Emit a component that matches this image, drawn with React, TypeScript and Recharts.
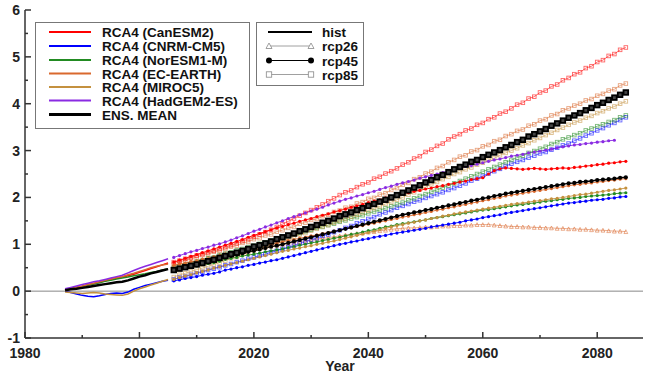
import React from 'react';
import { LineChart, Line, XAxis, YAxis, ReferenceLine } from 'recharts';

const histStart = 1987;
const scenStart = 2006;

const xTicks = [1980, 1990, 2000, 2010, 2020, 2030, 2040, 2050, 2060, 2070, 2080];
const yTicks = [-1, -0.5, 0, 0.5, 1, 1.5, 2, 2.5, 3, 3.5, 4, 4.5, 5, 5.5, 6];

const modelNames = ['RCA4 (CanESM2)', 'RCA4 (CNRM-CM5)', 'RCA4 (NorESM1-M)', 'RCA4 (EC-EARTH)', 'RCA4 (MIROC5)', 'RCA4 (HadGEM2-ES)', 'ENS. MEAN'];
const modelColors = ['#ff0000', '#0000ff', '#228b22', '#d9692e', '#c4913f', '#8a2be2', '#000000'];
const scenarioNames = ['hist', 'rcp26', 'rcp45', 'rcp85'];

// historical, 1987-2005
const histCan = [0.02, 0.05, 0.08, 0.10, 0.13, 0.16, 0.19, 0.22, 0.25, 0.28, 0.30, 0.33, 0.36, 0.40, 0.44, 0.48, 0.52, 0.56, 0.60];
const histCnrm = [0.00, -0.03, -0.06, -0.09, -0.11, -0.12, -0.10, -0.07, -0.05, -0.04, -0.05, -0.02, 0.04, 0.08, 0.12, 0.15, 0.18, 0.21, 0.23];
const histNor = [0.03, 0.06, 0.08, 0.10, 0.13, 0.15, 0.18, 0.21, 0.23, 0.26, 0.28, 0.30, 0.33, 0.35, 0.37, 0.40, 0.42, 0.45, 0.48];
const histEc = [0.02, 0.05, 0.08, 0.11, 0.14, 0.17, 0.20, 0.23, 0.26, 0.29, 0.31, 0.35, 0.38, 0.42, 0.46, 0.50, 0.53, 0.56, 0.58];
const histMiroc = [-0.02, -0.03, -0.04, -0.05, -0.04, -0.03, -0.04, -0.06, -0.07, -0.08, -0.09, -0.06, 0.00, 0.05, 0.09, 0.13, 0.17, 0.21, 0.25];
const histHad = [0.05, 0.08, 0.11, 0.14, 0.17, 0.20, 0.22, 0.25, 0.28, 0.31, 0.34, 0.39, 0.44, 0.49, 0.53, 0.57, 0.61, 0.65, 0.69];
const histEns = [0.02, 0.04, 0.05, 0.07, 0.09, 0.11, 0.13, 0.15, 0.17, 0.19, 0.20, 0.23, 0.27, 0.31, 0.34, 0.38, 0.41, 0.44, 0.47];

// rcp85, 2006-2085
const rcp85Can = [
  0.62, 0.65, 0.69, 0.72, 0.76, 0.79, 0.83, 0.86, 0.90, 0.94,
  0.98, 1.02, 1.07, 1.11, 1.16, 1.21, 1.26, 1.31, 1.37, 1.43,
  1.49, 1.55, 1.61, 1.67, 1.73, 1.79, 1.85, 1.92, 1.98, 2.05,
  2.11, 2.15, 2.22, 2.28, 2.32, 2.40, 2.44, 2.51, 2.56, 2.62,
  2.70, 2.75, 2.83, 2.88, 2.97, 3.02, 3.10, 3.15, 3.24, 3.30,
  3.35, 3.43, 3.47, 3.55, 3.59, 3.67, 3.71, 3.79, 3.83, 3.90,
  3.98, 4.02, 4.11, 4.15, 4.24, 4.28, 4.37, 4.41, 4.50, 4.55,
  4.63, 4.67, 4.76, 4.80, 4.89, 4.93, 5.02, 5.06, 5.15, 5.20,
];
const rcp85Cnrm = [
  0.25, 0.29, 0.31, 0.35, 0.38, 0.41, 0.45, 0.48, 0.51, 0.55,
  0.58, 0.62, 0.65, 0.69, 0.72, 0.76, 0.79, 0.83, 0.86, 0.90,
  0.94, 0.97, 1.02, 1.05, 1.10, 1.13, 1.18, 1.21, 1.26, 1.30,
  1.35, 1.39, 1.45, 1.49, 1.54, 1.58, 1.64, 1.68, 1.73, 1.78,
  1.82, 1.86, 1.91, 1.94, 1.99, 2.03, 2.07, 2.11, 2.16, 2.20,
  2.25, 2.30, 2.36, 2.40, 2.46, 2.51, 2.56, 2.61, 2.67, 2.72,
  2.76, 2.80, 2.85, 2.89, 2.94, 2.97, 3.02, 3.06, 3.11, 3.15,
  3.21, 3.26, 3.32, 3.37, 3.43, 3.48, 3.54, 3.59, 3.65, 3.71,
];
const rcp85Nor = [
  0.50, 0.52, 0.56, 0.58, 0.63, 0.65, 0.70, 0.72, 0.77, 0.80,
  0.83, 0.87, 0.90, 0.94, 0.97, 1.01, 1.04, 1.08, 1.11, 1.15,
  1.18, 1.22, 1.24, 1.28, 1.31, 1.35, 1.37, 1.41, 1.44, 1.48,
  1.51, 1.55, 1.58, 1.62, 1.66, 1.70, 1.73, 1.77, 1.81, 1.85,
  1.89, 1.94, 1.98, 2.03, 2.07, 2.12, 2.16, 2.21, 2.25, 2.30,
  2.35, 2.40, 2.45, 2.50, 2.55, 2.60, 2.65, 2.70, 2.75, 2.80,
  2.85, 2.89, 2.95, 2.99, 3.04, 3.08, 3.14, 3.18, 3.24, 3.28,
  3.33, 3.37, 3.43, 3.47, 3.52, 3.56, 3.61, 3.65, 3.71, 3.75,
];
const rcp85Ec = [
  0.58, 0.63, 0.65, 0.70, 0.72, 0.77, 0.79, 0.84, 0.86, 0.90,
  0.95, 0.97, 1.03, 1.05, 1.11, 1.13, 1.19, 1.21, 1.27, 1.30,
  1.35, 1.37, 1.44, 1.46, 1.52, 1.54, 1.60, 1.63, 1.69, 1.72,
  1.78, 1.80, 1.87, 1.90, 1.97, 1.99, 2.06, 2.09, 2.16, 2.20,
  2.27, 2.31, 2.39, 2.43, 2.51, 2.55, 2.63, 2.67, 2.75, 2.80,
  2.87, 2.90, 2.98, 3.01, 3.09, 3.12, 3.20, 3.23, 3.31, 3.35,
  3.42, 3.45, 3.53, 3.56, 3.64, 3.67, 3.75, 3.78, 3.86, 3.90,
  3.96, 4.00, 4.07, 4.10, 4.17, 4.21, 4.28, 4.31, 4.39, 4.43,
];
const rcp85Miroc = [
  0.30, 0.35, 0.38, 0.42, 0.46, 0.49, 0.53, 0.57, 0.61, 0.65,
  0.70, 0.73, 0.79, 0.82, 0.87, 0.91, 0.95, 0.99, 1.04, 1.08,
  1.12, 1.16, 1.21, 1.24, 1.29, 1.33, 1.38, 1.41, 1.46, 1.50,
  1.54, 1.59, 1.63, 1.68, 1.72, 1.77, 1.81, 1.86, 1.90, 1.95,
  2.00, 2.06, 2.11, 2.17, 2.22, 2.28, 2.33, 2.39, 2.44, 2.50,
  2.54, 2.60, 2.64, 2.70, 2.74, 2.80, 2.84, 2.90, 2.95, 3.00,
  3.05, 3.11, 3.16, 3.22, 3.27, 3.33, 3.38, 3.44, 3.49, 3.55,
  3.60, 3.64, 3.70, 3.74, 3.80, 3.84, 3.90, 3.94, 4.00, 4.05,
];
const rcp85Ens = [
  0.45, 0.48, 0.51, 0.54, 0.57, 0.60, 0.64, 0.67, 0.71, 0.75,
  0.79, 0.82, 0.86, 0.90, 0.95, 0.98, 1.02, 1.06, 1.11, 1.15,
  1.19, 1.23, 1.28, 1.32, 1.37, 1.41, 1.46, 1.50, 1.55, 1.60,
  1.64, 1.68, 1.73, 1.77, 1.82, 1.86, 1.91, 1.95, 2.00, 2.05,
  2.10, 2.15, 2.21, 2.26, 2.32, 2.37, 2.43, 2.48, 2.54, 2.60,
  2.65, 2.70, 2.76, 2.80, 2.86, 2.91, 2.96, 3.01, 3.07, 3.12,
  3.18, 3.23, 3.30, 3.35, 3.41, 3.46, 3.53, 3.58, 3.64, 3.70,
  3.75, 3.80, 3.86, 3.91, 3.97, 4.02, 4.08, 4.13, 4.19, 4.24,
];

// rcp45, 2006-2085 (HadGEM2-ES to 2083)
const rcp45Can = [
  0.62, 0.66, 0.70, 0.74, 0.78, 0.82, 0.86, 0.90, 0.94, 0.98,
  1.02, 1.06, 1.10, 1.15, 1.19, 1.23, 1.27, 1.31, 1.35, 1.38,
  1.42, 1.45, 1.49, 1.52, 1.55, 1.59, 1.62, 1.65, 1.69, 1.72,
  1.75, 1.79, 1.82, 1.85, 1.89, 1.92, 1.95, 1.99, 2.02, 2.05,
  2.08, 2.10, 2.13, 2.15, 2.18, 2.20, 2.23, 2.25, 2.28, 2.30,
  2.33, 2.35, 2.38, 2.40, 2.42, 2.50, 2.57, 2.61, 2.63, 2.62,
  2.61, 2.60, 2.61, 2.62, 2.61, 2.60, 2.61, 2.62, 2.63, 2.62,
  2.64, 2.65, 2.67, 2.68, 2.70, 2.71, 2.73, 2.74, 2.76, 2.77,
];
const rcp45Cnrm = [
  0.22, 0.24, 0.27, 0.29, 0.31, 0.34, 0.36, 0.38, 0.41, 0.45,
  0.47, 0.50, 0.52, 0.55, 0.57, 0.60, 0.62, 0.65, 0.67, 0.70,
  0.73, 0.76, 0.79, 0.82, 0.85, 0.88, 0.91, 0.94, 0.97, 1.00,
  1.02, 1.05, 1.07, 1.10, 1.12, 1.15, 1.17, 1.19, 1.22, 1.24,
  1.26, 1.28, 1.30, 1.32, 1.34, 1.37, 1.39, 1.41, 1.43, 1.45,
  1.47, 1.50, 1.52, 1.54, 1.57, 1.59, 1.61, 1.63, 1.66, 1.68,
  1.70, 1.72, 1.74, 1.76, 1.78, 1.80, 1.82, 1.84, 1.86, 1.88,
  1.89, 1.91, 1.92, 1.94, 1.95, 1.96, 1.98, 1.99, 2.01, 2.02,
];
const rcp45Nor = [
  0.45, 0.47, 0.50, 0.52, 0.54, 0.57, 0.59, 0.61, 0.64, 0.68,
  0.70, 0.72, 0.75, 0.77, 0.79, 0.81, 0.84, 0.86, 0.88, 0.90,
  0.93, 0.95, 0.98, 1.00, 1.03, 1.05, 1.08, 1.10, 1.13, 1.15,
  1.18, 1.21, 1.23, 1.26, 1.29, 1.31, 1.34, 1.37, 1.39, 1.42,
  1.44, 1.46, 1.48, 1.50, 1.52, 1.55, 1.57, 1.59, 1.61, 1.63,
  1.65, 1.67, 1.69, 1.71, 1.73, 1.74, 1.76, 1.78, 1.80, 1.82,
  1.84, 1.85, 1.87, 1.88, 1.90, 1.92, 1.93, 1.95, 1.96, 1.98,
  1.99, 2.00, 2.02, 2.03, 2.04, 2.05, 2.06, 2.08, 2.09, 2.10,
];
const rcp45Ec = [
  0.55, 0.58, 0.59, 0.63, 0.64, 0.68, 0.69, 0.73, 0.76, 0.79,
  0.82, 0.85, 0.87, 0.90, 0.92, 0.95, 0.97, 1.00, 1.02, 1.05,
  1.08, 1.10, 1.13, 1.15, 1.18, 1.20, 1.23, 1.25, 1.28, 1.30,
  1.33, 1.35, 1.38, 1.40, 1.43, 1.45, 1.48, 1.50, 1.53, 1.55,
  1.58, 1.60, 1.63, 1.65, 1.68, 1.70, 1.73, 1.75, 1.78, 1.80,
  1.83, 1.85, 1.88, 1.90, 1.93, 1.95, 1.98, 2.00, 2.03, 2.05,
  2.07, 2.09, 2.11, 2.13, 2.15, 2.17, 2.19, 2.21, 2.23, 2.25,
  2.27, 2.28, 2.30, 2.31, 2.33, 2.34, 2.36, 2.37, 2.39, 2.40,
];
const rcp45Miroc = [
  0.25, 0.29, 0.32, 0.35, 0.39, 0.42, 0.45, 0.49, 0.52, 0.55,
  0.58, 0.61, 0.64, 0.67, 0.70, 0.73, 0.76, 0.79, 0.82, 0.85,
  0.87, 0.90, 0.92, 0.95, 0.97, 1.00, 1.02, 1.05, 1.07, 1.10,
  1.13, 1.16, 1.19, 1.22, 1.25, 1.28, 1.31, 1.34, 1.37, 1.40,
  1.42, 1.45, 1.47, 1.50, 1.52, 1.55, 1.57, 1.60, 1.62, 1.65,
  1.67, 1.69, 1.71, 1.73, 1.75, 1.77, 1.79, 1.81, 1.83, 1.85,
  1.87, 1.88, 1.90, 1.92, 1.93, 1.95, 1.97, 1.98, 2.00, 2.02,
  2.04, 2.06, 2.07, 2.09, 2.11, 2.13, 2.15, 2.16, 2.18, 2.20,
];
const rcp45Had = [
  0.72, 0.76, 0.80, 0.84, 0.87, 0.91, 0.94, 0.98, 1.01, 1.05,
  1.09, 1.14, 1.18, 1.23, 1.28, 1.32, 1.37, 1.41, 1.46, 1.50,
  1.55, 1.59, 1.63, 1.67, 1.71, 1.75, 1.79, 1.84, 1.88, 1.92,
  1.96, 1.99, 2.03, 2.06, 2.10, 2.13, 2.17, 2.21, 2.24, 2.28,
  2.31, 2.34, 2.37, 2.41, 2.44, 2.47, 2.50, 2.53, 2.57, 2.60,
  2.63, 2.66, 2.68, 2.71, 2.74, 2.77, 2.80, 2.82, 2.85, 2.88,
  2.90, 2.92, 2.95, 2.97, 2.99, 3.01, 3.03, 3.06, 3.08, 3.10,
  3.12, 3.13, 3.15, 3.16, 3.18, 3.19, 3.21, 3.22,
];
const rcp45Ens = [
  0.45, 0.48, 0.51, 0.54, 0.57, 0.60, 0.63, 0.66, 0.69, 0.72,
  0.75, 0.78, 0.81, 0.84, 0.86, 0.89, 0.92, 0.95, 0.97, 1.00,
  1.03, 1.06, 1.09, 1.12, 1.15, 1.18, 1.21, 1.24, 1.27, 1.30,
  1.33, 1.36, 1.39, 1.42, 1.45, 1.48, 1.51, 1.54, 1.57, 1.60,
  1.63, 1.65, 1.68, 1.70, 1.73, 1.75, 1.78, 1.80, 1.83, 1.85,
  1.88, 1.90, 1.93, 1.95, 1.98, 2.00, 2.03, 2.05, 2.08, 2.10,
  2.12, 2.14, 2.16, 2.18, 2.20, 2.22, 2.24, 2.26, 2.28, 2.30,
  2.31, 2.33, 2.34, 2.35, 2.37, 2.38, 2.39, 2.40, 2.42, 2.43,
];

// rcp26, 2006-2085
const rcp26Ec = [
  0.55, 0.58, 0.60, 0.63, 0.65, 0.68, 0.71, 0.73, 0.77, 0.80,
  0.82, 0.84, 0.86, 0.88, 0.90, 0.92, 0.94, 0.96, 0.98, 1.00,
  1.02, 1.04, 1.06, 1.07, 1.09, 1.11, 1.13, 1.14, 1.16, 1.18,
  1.20, 1.21, 1.23, 1.24, 1.26, 1.27, 1.29, 1.30, 1.32, 1.33,
  1.34, 1.35, 1.35, 1.36, 1.37, 1.37, 1.38, 1.39, 1.39, 1.40,
  1.40, 1.41, 1.41, 1.42, 1.42, 1.42, 1.41, 1.40, 1.39, 1.38,
  1.38, 1.37, 1.37, 1.36, 1.36, 1.35, 1.35, 1.34, 1.34, 1.33,
  1.33, 1.32, 1.32, 1.31, 1.30, 1.30, 1.29, 1.28, 1.28, 1.27,
];

const toPoints = (start: number, vals: number[]) => vals.map((v, i) => ({ year: start + i, v }));

const font = "'Liberation Sans', Arial, sans-serif";
const axisColor = '#333';

type Kind = 'hist' | 'rcp26' | 'rcp45' | 'rcp85';
interface Series { id: string; data: number[]; start: number; model: number; kind: Kind; }

const series: Series[] = [
  { id: 'h0', data: histCan, start: histStart, model: 0, kind: 'hist' },
  { id: 'h1', data: histCnrm, start: histStart, model: 1, kind: 'hist' },
  { id: 'h2', data: histNor, start: histStart, model: 2, kind: 'hist' },
  { id: 'h3', data: histEc, start: histStart, model: 3, kind: 'hist' },
  { id: 'h4', data: histMiroc, start: histStart, model: 4, kind: 'hist' },
  { id: 'h5', data: histHad, start: histStart, model: 5, kind: 'hist' },
  { id: 'h6', data: histEns, start: histStart, model: 6, kind: 'hist' },
  { id: 'a3', data: rcp26Ec, start: scenStart, model: 3, kind: 'rcp26' },
  { id: 'c1', data: rcp85Cnrm, start: scenStart, model: 1, kind: 'rcp85' },
  { id: 'c2', data: rcp85Nor, start: scenStart, model: 2, kind: 'rcp85' },
  { id: 'c4', data: rcp85Miroc, start: scenStart, model: 4, kind: 'rcp85' },
  { id: 'c3', data: rcp85Ec, start: scenStart, model: 3, kind: 'rcp85' },
  { id: 'c0', data: rcp85Can, start: scenStart, model: 0, kind: 'rcp85' },
  { id: 'b1', data: rcp45Cnrm, start: scenStart, model: 1, kind: 'rcp45' },
  { id: 'b2', data: rcp45Nor, start: scenStart, model: 2, kind: 'rcp45' },
  { id: 'b4', data: rcp45Miroc, start: scenStart, model: 4, kind: 'rcp45' },
  { id: 'b3', data: rcp45Ec, start: scenStart, model: 3, kind: 'rcp45' },
  { id: 'b0', data: rcp45Can, start: scenStart, model: 0, kind: 'rcp45' },
  { id: 'b5', data: rcp45Had, start: scenStart, model: 5, kind: 'rcp45' },
  { id: 'b6', data: rcp45Ens, start: scenStart, model: 6, kind: 'rcp45' },
  { id: 'c6', data: rcp85Ens, start: scenStart, model: 6, kind: 'rcp85' },
];

const makeDot = (kind: Kind, color: string, ens: boolean) => (p: any) => {
  const { cx, cy, index } = p;
  if (cx == null || cy == null) return <g key={index} />;
  if (kind === 'rcp85') {
    const s = ens ? 4.6 : 3.6;
    return <rect key={index} x={cx - s / 2} y={cy - s / 2} width={s} height={s} fill={ens ? '#444' : 'none'} stroke={color} strokeWidth={ens ? 1.8 : 0.9} strokeOpacity={ens ? 1 : 0.6} />;
  }
  if (kind === 'rcp45') {
    return <circle key={index} cx={cx} cy={cy} r={ens ? 2.1 : 1.6} fill={color} />;
  }
  if (kind === 'rcp26') {
    const s = 3.8;
    return <path key={index} d={`M${cx},${cy - s / 2}L${cx + s / 2},${cy + s / 2}L${cx - s / 2},${cy + s / 2}Z`} fill="none" stroke={color} strokeWidth={0.9} strokeOpacity={0.6} />;
  }
  return <g key={index} />;
};

const BottomTick = (props: any) => {
  const { x, y, payload } = props;
  const major = payload.value % 20 === 0;
  return (
    <g>
      <line x1={x} y1={y} x2={x} y2={y - (major ? 6 : 3)} stroke={axisColor} strokeWidth={1.5} />
      {major && (
        <text x={x} y={y + 20} textAnchor="middle" fontFamily={font} fontWeight="bold" fontSize={14} fill="#222">
          {payload.value}
        </text>
      )}
    </g>
  );
};

const TopTick = (props: any) => {
  const { x, y, payload } = props;
  const major = payload.value % 20 === 0;
  return <line x1={x} y1={y} x2={x} y2={y + (major ? 6 : 3)} stroke={axisColor} strokeWidth={1.5} />;
};

const LeftTick = (props: any) => {
  const { x, y, payload } = props;
  const major = Number.isInteger(payload.value);
  return (
    <g>
      <line x1={x} y1={y} x2={x + (major ? 6 : 3)} y2={y} stroke={axisColor} strokeWidth={1.5} />
      {major && (
        <text x={x - 5} y={y + 5} textAnchor="end" fontFamily={font} fontWeight="bold" fontSize={14} fill="#222">
          {payload.value}
        </text>
      )}
    </g>
  );
};

const LegendOverlay = () => {
  const rows1 = [32, 46, 60, 73.5, 87, 100.5, 114.5];
  const rows2 = [32, 46, 60.5, 74.5];
  const txt = { fontFamily: font, fontWeight: 'bold' as const, fontSize: 13.5, fill: '#111' };
  return (
    <svg width={648} height={373} style={{ position: 'absolute', left: 0, top: 0, pointerEvents: 'none' }}>
      <rect x={35.5} y={22.5} width={214} height={106} fill="#fff" stroke="#777" strokeWidth={1} />
      {modelNames.map((name, i) => (
        <g key={name}>
          <line x1={49} y1={rows1[i]} x2={91} y2={rows1[i]} stroke={modelColors[i]} strokeWidth={i === 6 ? 3 : 2} />
          <text x={102} y={rows1[i] + 5} {...txt}>{name}</text>
        </g>
      ))}
      <rect x={256.5} y={22.5} width={107} height={63} fill="#fff" stroke="#777" strokeWidth={1} />
      {scenarioNames.map((name, i) => {
        const y = rows2[i];
        return (
          <g key={name}>
            {i === 0 && <line x1={268} y1={y} x2={312} y2={y} stroke="#000" strokeWidth={2} />}
            {i === 1 && (
              <g>
                <line x1={269} y1={y} x2={311} y2={y} stroke="#888" strokeWidth={0.8} />
                {[269, 311].map((cx) => (
                  <path key={cx} d={`M${cx},${y - 3}L${cx + 3},${y + 2.5}L${cx - 3},${y + 2.5}Z`} fill="#fff" stroke="#888" strokeWidth={0.8} />
                ))}
              </g>
            )}
            {i === 2 && (
              <g>
                <line x1={269} y1={y} x2={311} y2={y} stroke="#000" strokeWidth={1.2} />
                <circle cx={269} cy={y} r={3} fill="#000" />
                <circle cx={311} cy={y} r={3} fill="#000" />
              </g>
            )}
            {i === 3 && (
              <g>
                <line x1={269} y1={y} x2={311} y2={y} stroke="#888" strokeWidth={0.8} />
                {[269, 311].map((cx) => (
                  <rect key={cx} x={cx - 2.7} y={y - 2.7} width={5.4} height={5.4} fill="#fff" stroke="#888" strokeWidth={0.8} />
                ))}
              </g>
            )}
            <text x={322} y={y + 5} {...txt}>{name}</text>
          </g>
        );
      })}
    </svg>
  );
};

export default function App() {
  return (
    <div style={{ position: 'absolute', left: 0, top: 0, width: 648, height: 373, background: '#fff' }}>
      <LineChart width={648} height={373} margin={{ top: 10, right: 5, left: 0, bottom: 0 }}>
        <XAxis
          xAxisId="b"
          type="number"
          dataKey="year"
          domain={[1980, 2088]}
          ticks={xTicks}
          interval={0}
          allowDataOverflow
          height={35}
          tickSize={0}
          tickMargin={0}
          tickLine={false}
          tick={BottomTick}
          axisLine={{ stroke: axisColor, strokeWidth: 1.5 }}
          label={{
            content: (p: any) => (
              <text x={p.viewBox.x + p.viewBox.width / 2 + 6} y={371} textAnchor="middle" fontFamily={font} fontWeight="bold" fontSize={14} fill="#222">
                Year
              </text>
            ),
          }}
        />
        <XAxis
          xAxisId="t"
          orientation="top"
          type="number"
          domain={[1980, 2088]}
          ticks={xTicks}
          interval={0}
          allowDataOverflow
          height={0}
          tickSize={0}
          tickMargin={0}
          tickLine={false}
          tick={TopTick}
          axisLine={{ stroke: axisColor, strokeWidth: 1.5 }}
        />
        <YAxis
          yAxisId="l"
          type="number"
          domain={[-1, 6]}
          ticks={yTicks}
          interval={0}
          allowDataOverflow
          width={25}
          tickSize={0}
          tickMargin={0}
          tickLine={false}
          tick={LeftTick}
          axisLine={{ stroke: axisColor, strokeWidth: 1.5 }}
        />
        <YAxis
          yAxisId="r"
          orientation="right"
          type="number"
          domain={[-1, 6]}
          width={0}
          tick={false}
          tickLine={false}
          axisLine={{ stroke: '#bbb', strokeWidth: 1 }}
        />
        <ReferenceLine xAxisId="b" yAxisId="l" y={0} stroke="#888" strokeWidth={1} />
        {series.map((s) => {
          const color = modelColors[s.model];
          const ens = s.model === 6;
          let width = 1;
          let opacity = 1;
          if (s.kind === 'hist') width = ens ? 2.5 : 1.5;
          if (s.kind === 'rcp85') { width = ens ? 2 : 0.9; opacity = ens ? 1 : 0.6; }
          if (s.kind === 'rcp45') width = ens ? 1.5 : 0.9;
          if (s.kind === 'rcp26') { width = 0.9; opacity = 0.6; }
          return (
            <Line
              key={s.id}
              xAxisId="b"
              yAxisId="l"
              data={toPoints(s.start, s.data)}
              dataKey="v"
              type="linear"
              stroke={color}
              strokeWidth={width}
              strokeOpacity={opacity}
              dot={s.kind === 'hist' ? false : makeDot(s.kind, color, ens)}
              activeDot={false}
              isAnimationActive={false}
            />
          );
        })}
      </LineChart>
      <LegendOverlay />
    </div>
  );
}
